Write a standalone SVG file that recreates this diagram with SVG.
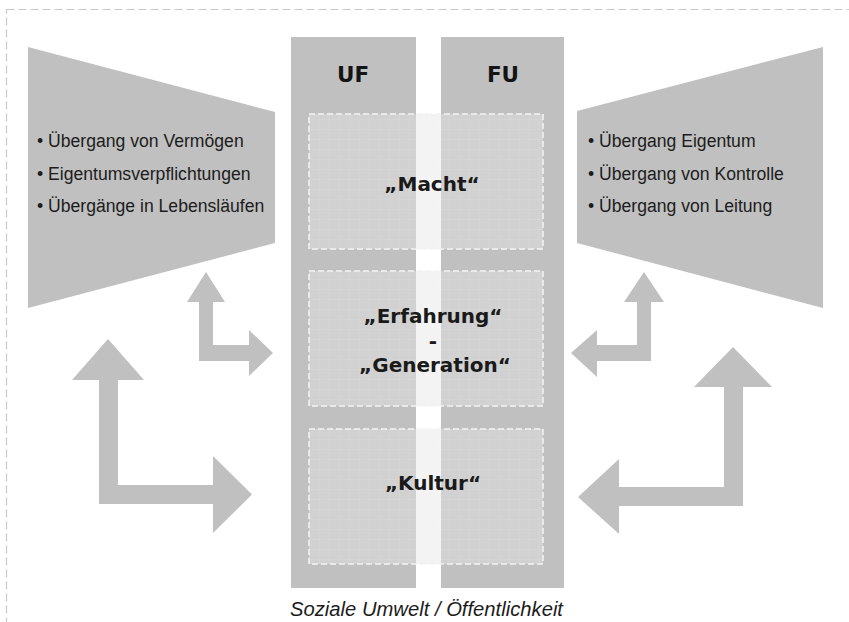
<svg xmlns="http://www.w3.org/2000/svg" width="849" height="622" viewBox="0 0 849 622">
<style>
.g{fill:#c0c0c0}
.box{fill:#e4e4e4;fill-opacity:0.46;stroke:#f4f4f4;stroke-width:1.5;stroke-dasharray:6 3}
.grid{fill:url(#grid)}
.bul{font-family:"Liberation Sans",Arial,sans-serif;font-size:17.6px;fill:#1c1c1c}
.hd{font-family:"DejaVu Sans",Verdana,sans-serif;font-weight:bold;font-size:21.5px;fill:#141414;text-anchor:middle}
.lb{font-family:"DejaVu Sans",Verdana,sans-serif;font-weight:bold;font-size:20px;fill:#1a1a1a;text-anchor:middle}
.ft{font-family:"Liberation Sans",Arial,sans-serif;font-style:italic;font-size:19.5px;fill:#1c1c1c}
</style>
<defs>
<pattern id="grid" width="10" height="10" patternUnits="userSpaceOnUse">
<path d="M10 0V10M0 10H10" stroke="#ffffff" stroke-opacity="0.12" stroke-width="1" fill="none"/>
</pattern>
</defs>
<rect x="6.5" y="9.5" width="870" height="650" fill="#ffffff" stroke="#c8c8c8" stroke-width="1.2" stroke-dasharray="8 4"/>

<g id="left-trapezoid">
<polygon class="g" points="28,47 275,112 275,243 28,308"/>
<text class="bul" x="37" y="147">• Übergang von Vermögen</text>
<text class="bul" x="37" y="180">• Eigentumsverpflichtungen</text>
<text class="bul" x="37" y="212">• Übergänge in Lebensläufen</text>
</g>

<g id="right-trapezoid">
<polygon class="g" points="577,111 823,47 823,308 577,243"/>
<text class="bul" x="588" y="147">• Übergang Eigentum</text>
<text class="bul" x="588" y="180">• Übergang von Kontrolle</text>
<text class="bul" x="588" y="212">• Übergang von Leitung</text>
</g>

<g id="column-uf">
<rect class="g" x="291" y="37" width="125" height="551"/>
<text class="hd" x="353" y="82">UF</text>
</g>

<g id="column-fu">
<rect class="g" x="441" y="37" width="123" height="551"/>
<text class="hd" x="503" y="82">FU</text>
</g>

<g id="box-macht">
<rect class="box" x="309" y="114" width="234" height="135"/>
<rect class="grid" x="309" y="114" width="234" height="135"/>
<text class="lb" x="432" y="191">„Macht“</text>
</g>

<g id="box-erfahrung">
<rect class="box" x="309" y="271" width="234" height="135"/>
<rect class="grid" x="309" y="271" width="234" height="135"/>
<text class="lb" x="433" y="323">„Erfahrung“</text>
<text class="lb" x="433" y="348">-</text>
<text class="lb" x="435" y="372">„Generation“</text>
</g>

<g id="box-kultur">
<rect class="box" x="309" y="429" width="234" height="135"/>
<rect class="grid" x="309" y="429" width="234" height="135"/>
<text class="lb" x="433" y="490">„Kultur“</text>
</g>

<g id="connectors">
<polygon class="g" points="206,272 225,302 213,302 213,345 249,345 249,330 273,353 249,376 249,361 199,361 199,302 187,302"/>
<polygon class="g" points="108,339 144,380 118,380 118,485 213,485 213,456 252,494.5 213,533 213,504 99,504 99,380 72,380"/>
<polygon class="g" points="644,272 664,302 651,302 651,361 597,361 597,377 571,353 597,330 597,345 637,345 637,302 624,302"/>
<polygon class="g" points="733,347 772,387 743,387 743,506 619,506 619,534 578,497 619,459 619,487 724,487 724,387 694,387"/>
</g>

<g id="caption">
<text class="ft" x="290" y="616" textLength="273" lengthAdjust="spacingAndGlyphs">Soziale Umwelt / Öffentlichkeit</text>
</g>
</svg>
